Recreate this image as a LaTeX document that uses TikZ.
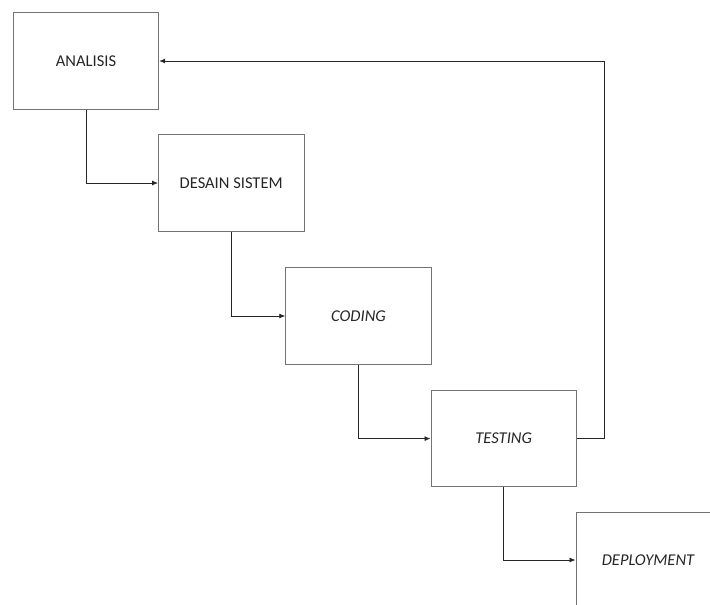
\documentclass[tikz,border=0pt]{standalone}
\usepackage{fontspec}
\setmainfont{Carlito}
\usetikzlibrary{arrows.meta}
\begin{document}
\begin{tikzpicture}[x=1pt,y=-1pt,
  stage/.style={draw=black!55,line width=0.9pt,minimum width=145.5pt,minimum height=96.5pt,inner sep=0pt,font=\fontsize{16.5}{18}\selectfont,text=black!85},
  conn/.style={draw=black!85,line width=0.8pt,-{Latex[length=6pt,width=5pt]}}]
\useasboundingbox (0,0) rectangle (710,605);
\clip (0,0) rectangle (710,605);
\node[stage] (analisis) at (86,61) {ANALISIS};
\node[stage] (desain) at (231.2,183) {DESAIN SISTEM};
\node[stage] (coding) at (358.5,316) {\itshape CODING};
\node[stage] (testing) at (503.7,438.6) {\itshape TESTING};
\node[stage,anchor=north west] (deploy) at (575.5,512.3) {};
\node at (648,560) [font=\fontsize{16.5}{18}\selectfont\itshape,text=black!85] (deploytxt) {DEPLOYMENT};
\coordinate (fb) at (604,61);
\draw[conn] (analisis.south) |- (desain.west);
\draw[conn] (desain.south) |- (coding.west);
\draw[conn] (coding.south) |- (testing.west);
\draw[conn] (testing.south) |- (deploy.west |- deploytxt);
\draw[conn] (testing.east) -| (fb) -- (analisis.east);
\end{tikzpicture}
\end{document}
